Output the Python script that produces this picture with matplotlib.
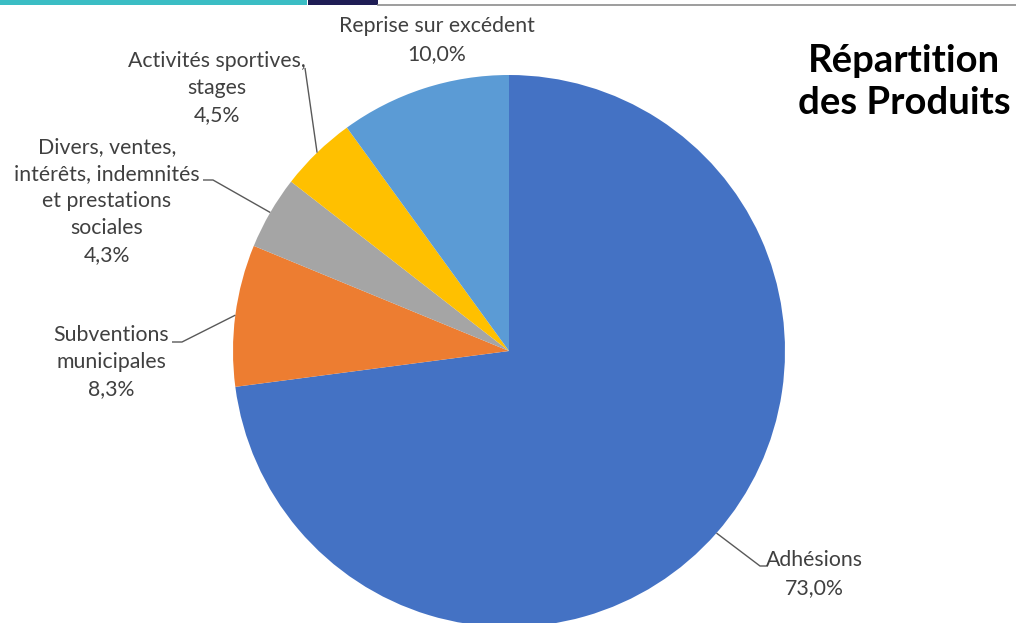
import numpy as np
import matplotlib
matplotlib.use("Agg")
import matplotlib.pyplot as plt

categories = ["Adhésions", "Subventions\nmunicipales",
              "Divers, ventes,\nintérêts, indemnités\net prestations\nsociales",
              "Activités sportives,\nstages", "Reprise sur excédent"]
values = [73.0, 8.3, 4.3, 4.5, 10.0]
value_labels = ["73,0%", "8,3%", "4,3%", "4,5%", "10,0%"]
colors = ["#4472C4", "#ED7D31", "#A5A5A5", "#FFC000", "#5B9BD5"]
title = "Répartition\ndes Produits"

W, H = 1016, 623
fig = plt.figure(figsize=(W / 100, H / 100), dpi=100)
ax = fig.add_axes([0, 0, 1, 1])

def Y(y):  # convert top-based pixel row to data y
    return H - y

cx, cy, R = 509, Y(351), 276
wedges, _ = ax.pie(values, colors=colors, startangle=90, counterclock=False,
                   center=(cx, cy), radius=R, frame=True,
                   wedgeprops=dict(linewidth=0))
ax.set_xlim(0, W)
ax.set_ylim(0, H)
ax.set_aspect("equal")
ax.axis("off")

# header decoration
ax.add_patch(plt.Rectangle((0, Y(4.5)), 307, 4.5, color="#3BBDC4", lw=0, clip_on=False))
ax.add_patch(plt.Rectangle((308, Y(4.5)), 70, 4.5, color="#1F1D55", lw=0, clip_on=False))
ax.plot([378, W], [Y(4.5), Y(4.5)], color="#8C8C8C", lw=1.2)

font = "Lato"
tcol = "#404040"
fs = 15.3

# label layout: (text center x, block center y top-based, leader end x, leader end y, elbow side)
layout = {
    0: (814, 574, 768, 566, "left"),
    1: (111, 362, 172, 342, "right"),
    2: (107, 201, 203, 180, "right"),
    3: (217, 88, 305, 68, None),
    4: (437, 40, None, None, None),
}
for i, w in enumerate(wedges):
    tx, ty, lx, ly, side = layout[i]
    text = categories[i] + "\n" + value_labels[i]
    ax.text(tx, Y(ty), text, ha="center", va="center", fontsize=fs,
            family=font, color=tcol, linespacing=1.45)
    if lx is None:
        continue
    mid = np.deg2rad((w.theta1 + w.theta2) / 2)
    px, py = cx + R * np.cos(mid), cy + R * np.sin(mid)
    if side == "left":
        xs = [px, lx - 8, lx]
        ys = [py, Y(ly), Y(ly)]
    elif side == "right":
        xs = [px, lx + 10, lx]
        ys = [py, Y(ly), Y(ly)]
    else:
        xs = [px, lx]
        ys = [py, Y(ly)]
    ax.plot(xs, ys, color="#595959", lw=1.0, solid_capstyle="butt")

ax.text(904, Y(82), title, ha="center", va="center", fontsize=27.5,
        fontweight="bold", family=font, color="#000000", linespacing=1.3)

fig.savefig("out.png", dpi=100)
